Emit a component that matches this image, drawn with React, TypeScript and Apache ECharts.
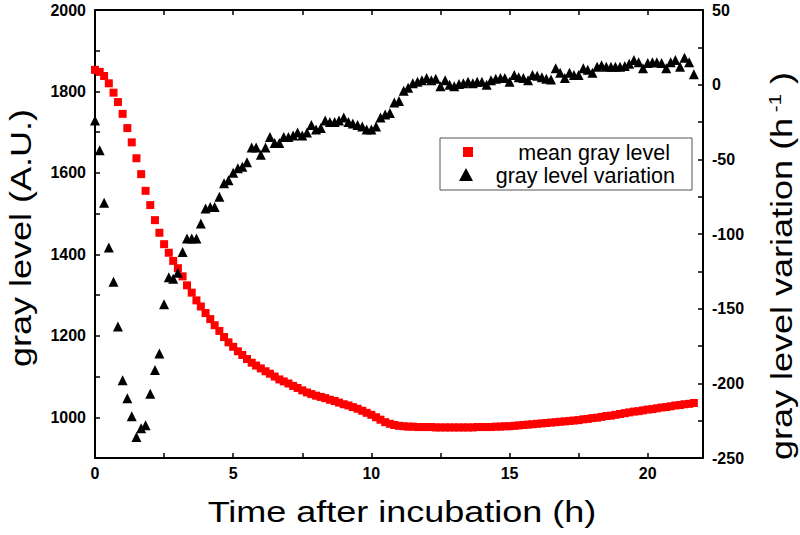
import React, { useEffect, useRef } from "react";
import * as echarts from "echarts";

// Time after incubation (h), one sample every 10 min
const times = [
  0, 0.17, 0.33, 0.5, 0.67, 0.83,
  1, 1.17, 1.33, 1.5, 1.67, 1.83,
  2, 2.17, 2.33, 2.5, 2.67, 2.83,
  3, 3.17, 3.33, 3.5, 3.67, 3.83,
  4, 4.17, 4.33, 4.5, 4.67, 4.83,
  5, 5.17, 5.33, 5.5, 5.67, 5.83,
  6, 6.17, 6.33, 6.5, 6.67, 6.83,
  7, 7.17, 7.33, 7.5, 7.67, 7.83,
  8, 8.17, 8.33, 8.5, 8.67, 8.83,
  9, 9.17, 9.33, 9.5, 9.67, 9.83,
  10, 10.17, 10.33, 10.5, 10.67, 10.83,
  11, 11.17, 11.33, 11.5, 11.67, 11.83,
  12, 12.17, 12.33, 12.5, 12.67, 12.83,
  13, 13.17, 13.33, 13.5, 13.67, 13.83,
  14, 14.17, 14.33, 14.5, 14.67, 14.83,
  15, 15.17, 15.33, 15.5, 15.67, 15.83,
  16, 16.17, 16.33, 16.5, 16.67, 16.83,
  17, 17.17, 17.33, 17.5, 17.67, 17.83,
  18, 18.17, 18.33, 18.5, 18.67, 18.83,
  19, 19.17, 19.33, 19.5, 19.67, 19.83,
  20, 20.17, 20.33, 20.5, 20.67, 20.83,
  21, 21.17, 21.33, 21.5, 21.67,
];

// mean gray level (A.U.), left axis
const meanGray = [
  1853, 1848, 1838, 1820, 1797, 1774,
  1745, 1710, 1675, 1636, 1597, 1556,
  1521, 1484, 1453, 1425, 1404, 1384,
  1366, 1346, 1324, 1306, 1287, 1272,
  1256, 1241, 1226, 1212, 1197, 1184,
  1173, 1162, 1153, 1143, 1134, 1127,
  1120, 1113, 1107, 1100, 1093, 1088,
  1083, 1077, 1072, 1066, 1061, 1057,
  1053, 1050, 1047, 1043, 1040, 1036,
  1032, 1029, 1025, 1021, 1016, 1011,
  1006, 1000, 994, 988, 984, 981,
  979, 978, 977, 977, 976, 976,
  976, 976, 975, 975, 975, 975,
  975, 975, 975, 975, 975, 976,
  976, 976, 976, 977, 977, 978,
  978, 979, 980, 981, 982, 983,
  984, 985, 986, 987, 988, 989,
  990, 991, 992, 993, 995, 996,
  998, 999, 1001, 1003, 1004, 1006,
  1008, 1010, 1012, 1014, 1015, 1017,
  1019, 1020, 1022, 1024, 1025, 1027,
  1029, 1030, 1032, 1033, 1035,
];

// gray level variation (h^-1), right axis
const grayVariation = [
  -24, -44, -79, -109, -132, -162,
  -198, -210, -222, -236, -230, -228,
  -207, -191, -180, -147, -129, -130,
  -126, -112, -103, -103, -103, -93,
  -83, -82, -82, -75, -66, -64,
  -59, -56, -55, -52, -42, -42,
  -47, -42, -35, -39, -39, -35,
  -35, -34, -32, -34, -32, -27,
  -30, -29, -24, -25, -25, -24,
  -22, -25, -26, -27, -28, -30,
  -30, -28, -22, -20, -19, -12,
  -11, -4, -2, 1, 2, 3,
  4.5, 3, 4, -1, 3, 0,
  -1, 0.5, 1, 2, 1, 2,
  2, 0, 3, 4, 4.5, 4.5,
  2, 6.5, 5, 4.5, 3, 6.5,
  6, 5, 4, 3.5, 11, 8,
  4.5, 8, 6.5, 6.5, 11, 10,
  8, 12, 13, 12, 12, 12,
  12, 12.5, 14, 16.5, 15, 11,
  14.5, 15, 15, 14.5, 11, 15,
  16.5, 12, 18, 15, 7,
];

const seriesNames = ["mean gray level", "gray level variation"];
const xTitle = "Time after incubation (h)";
const leftTitle = "gray level (A.U.)";
const rightTitle = "{a|gray level variation (h}{s| -1}{a| )}";

const FONT = "'Liberation Sans', Arial, sans-serif";

export default function App() {
  const ref = useRef<HTMLDivElement>(null);

  useEffect(() => {
    if (!ref.current) return;
    const chart = echarts.init(ref.current, null, { renderer: "svg" });

    const axisLine = { show: true, onZero: false, lineStyle: { color: "#000", width: 2 } };
    const axisTick = { show: true, inside: true, length: 5, lineStyle: { color: "#000", width: 1.5 } };
    const tickLabel = { color: "#000", fontWeight: "bold" as const, fontSize: 16, fontFamily: FONT };
    const titleStyle = { fill: "#000", fontSize: 30, fontFamily: FONT, align: "center", verticalAlign: "middle" };

    chart.setOption({
      animation: false,
      backgroundColor: "#fff",
      grid: {
        left: 95,
        right: 97,
        top: 10,
        bottom: 77,
        containLabel: false,
        outerBoundsMode: "none",
      },
      xAxis: [
        {
          type: "value",
          position: "bottom",
          min: 0,
          max: 22,
          interval: 2.5,
          axisLine,
          axisTick,
          splitLine: { show: false },
          axisLabel: {
            ...tickLabel,
            margin: 7,
            formatter: (v: number) => (v % 5 === 0 ? String(v) : ""),
          },
        },
        {
          type: "value",
          position: "top",
          min: 0,
          max: 22,
          interval: 2.5,
          axisLine,
          axisTick,
          splitLine: { show: false },
          axisLabel: { show: false },
        },
      ],
      yAxis: [
        {
          type: "value",
          position: "left",
          min: 900,
          max: 2000,
          interval: 100,
          axisLine,
          axisTick,
          splitLine: { show: false },
          axisLabel: {
            ...tickLabel,
            margin: 9,
            formatter: (v: number) => (v % 200 === 0 && v >= 1000 ? String(v) : ""),
          },
        },
        {
          type: "value",
          position: "right",
          min: -250,
          max: 50,
          interval: 25,
          axisLine,
          axisTick,
          splitLine: { show: false },
          axisLabel: {
            ...tickLabel,
            margin: 9,
            formatter: (v: number) => (v % 50 === 0 ? String(v) : ""),
          },
        },
      ],
      series: [
        {
          name: seriesNames[0],
          type: "scatter",
          xAxisIndex: 0,
          yAxisIndex: 0,
          symbol: "rect",
          symbolSize: 8,
          itemStyle: { color: "#ff0000", opacity: 1 },
          data: times.map((t, i) => [t, meanGray[i]]),
        },
        {
          name: seriesNames[1],
          type: "scatter",
          xAxisIndex: 0,
          yAxisIndex: 1,
          symbol: "triangle",
          symbolSize: 10,
          itemStyle: { color: "#000", opacity: 1 },
          data: times.map((t, i) => [t, grayVariation[i]]),
        },
      ],
      graphic: [
        // axis titles
        {
          type: "text",
          x: 402,
          y: 512,
          scaleX: 1.2,
          style: { ...titleStyle, text: xTitle },
        },
        {
          type: "text",
          x: 21,
          y: 238,
          rotation: Math.PI / 2,
          scaleX: 1.2,
          style: { ...titleStyle, text: leftTitle },
        },
        {
          type: "text",
          x: 782,
          y: 266,
          rotation: Math.PI / 2,
          scaleX: 1.2,
          style: {
            ...titleStyle,
            text: rightTitle,
            rich: {
              a: { fontSize: 30, fontFamily: FONT, fill: "#000", color: "#000" },
              s: { fontSize: 17, fontFamily: FONT, fill: "#000", color: "#000", verticalAlign: "top" },
            },
          },
        },
        // legend
        {
          type: "group",
          z: 100,
          children: [
            {
              type: "rect",
              shape: { x: 440, y: 138, width: 252, height: 52 },
              style: { fill: "#fff", stroke: "#555", lineWidth: 1 },
            },
            {
              type: "rect",
              shape: { x: 463, y: 147, width: 10, height: 10 },
              style: { fill: "#ff0000" },
            },
            {
              type: "polygon",
              shape: { points: [[466, 168], [459, 181], [473, 181]] },
              style: { fill: "#000" },
            },
            {
              type: "text",
              x: 670,
              y: 153,
              style: {
                text: seriesNames[0],
                fill: "#000",
                fontSize: 21.5,
                fontFamily: FONT,
                align: "right",
                verticalAlign: "middle",
              },
            },
            {
              type: "text",
              x: 675,
              y: 176,
              style: {
                text: seriesNames[1],
                fill: "#000",
                fontSize: 21.5,
                fontFamily: FONT,
                align: "right",
                verticalAlign: "middle",
              },
            },
          ],
        },
      ],
    });

    return () => chart.dispose();
  }, []);

  return (
    <div
      ref={ref}
      style={{ position: "fixed", left: 0, top: 0, width: 800, height: 535 }}
    />
  );
}
